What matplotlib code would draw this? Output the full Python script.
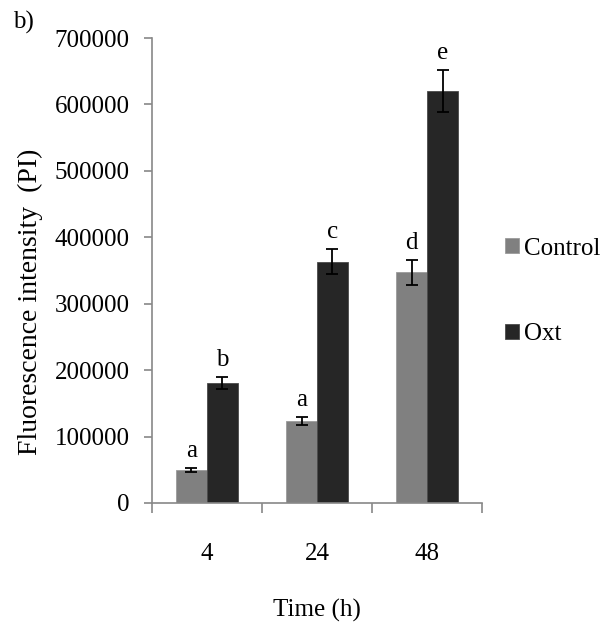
import matplotlib.pyplot as plt
import numpy as np

plt.rcParams['font.family'] = ['Liberation Serif', 'DejaVu Serif']

times = ['4', '24', '48']
control = [49000, 123000, 347000]
control_err = [3000, 6000, 19000]
oxt = [180000, 363000, 620000]
oxt_err = [9000, 19000, 32000]
control_letters = ['a', 'a', 'd']
oxt_letters = ['b', 'c', 'e']

fig = plt.figure(figsize=(6.12, 6.24), dpi=100)
ax = fig.add_axes([0.248, 0.194, 0.54, 0.745])

x = np.arange(len(times))
w = 0.28
ekw = dict(elinewidth=1.3, capsize=4, capthick=1.3, ecolor='black')
ax.bar(x - w/2, control, w, yerr=control_err, color='#808080', edgecolor='#9a9a9a',
       linewidth=0.6, error_kw=ekw, label='Control')
ax.bar(x + w/2, oxt, w, yerr=oxt_err, color='#262626', edgecolor='#4a4a4a',
       linewidth=0.6, error_kw=ekw, label='Oxt')

# significance letters
for i in range(len(times)):
    ax.text(x[i] - w/2, control[i] + control_err[i] + 9000, control_letters[i],
            ha='center', va='bottom', fontsize=18)
    ax.text(x[i] + w/2, oxt[i] + oxt_err[i] + 9000, oxt_letters[i],
            ha='center', va='bottom', fontsize=18)

ax.set_xlim(-0.5, len(times) - 0.5)
ax.set_ylim(0, 700000)
ax.set_yticks(np.arange(0, 700001, 100000))
ax.set_yticklabels([str(v) for v in range(0, 700001, 100000)], fontsize=18)
ax.set_xticks(x)
ax.set_xticklabels(times, fontsize=18)
ax.tick_params(axis='x', length=0, pad=29)
ax.set_xticks(np.arange(-0.5, len(times)), minor=True)
ax.tick_params(axis='x', which='minor', length=7, color='#888888', width=1.2)
ax.tick_params(axis='y', length=6, color='#888888', width=1.2, pad=10)

for s in ['top', 'right']:
    ax.spines[s].set_visible(False)
for s in ['left', 'bottom']:
    ax.spines[s].set_color('#888888')
    ax.spines[s].set_linewidth(1.2)

ax.set_xlabel('Time (h)', fontsize=18, labelpad=24)
ax.set_ylabel('Fluorescence intensity  (PI)', fontsize=20)
ax.yaxis.set_label_coords(-0.328, 0.432)

ax.legend(loc='center left', bbox_to_anchor=(1.0, 0.455), frameon=False, fontsize=18,
          handlelength=0.55, handleheight=0.55, handletextpad=0.2, labelspacing=2.55)

fig.text(0.022, 0.955, 'b)', fontsize=18)

fig.savefig('out.png', dpi=100)
